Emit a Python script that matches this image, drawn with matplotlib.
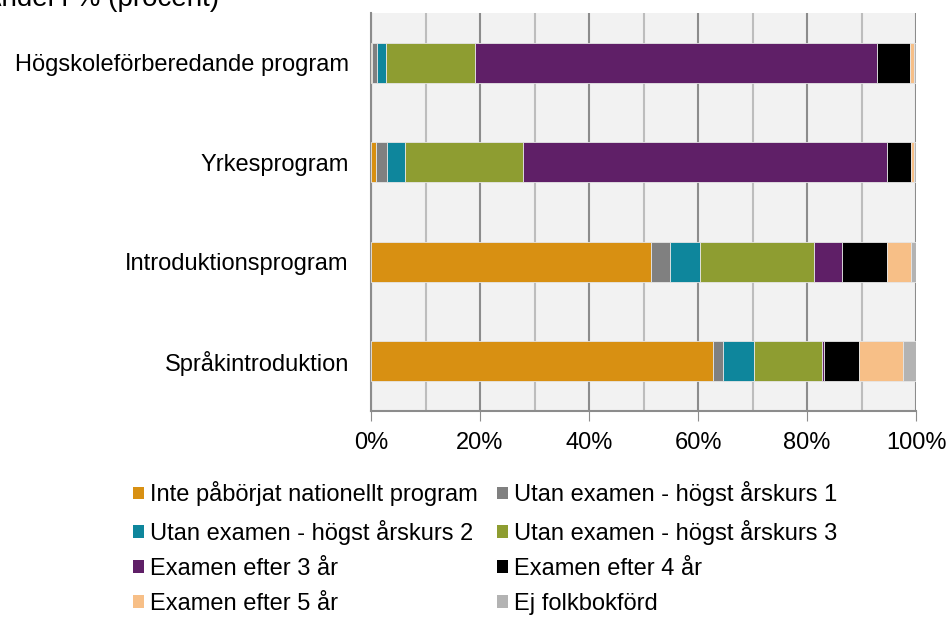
import numpy as np
import matplotlib.pyplot as plt
from matplotlib.patches import Patch

plt.rcParams["font.family"] = ["Liberation Sans", "DejaVu Sans"]

programs = ["Högskoleförberedande program", "Yrkesprogram",
            "Introduktionsprogram", "Språkintroduktion"]
series = ["Inte påbörjat nationellt program", "Utan examen - högst årskurs 1",
          "Utan examen - högst årskurs 2", "Utan examen - högst årskurs 3",
          "Examen efter 3 år", "Examen efter 4 år", "Examen efter 5 år",
          "Ej folkbokförd"]
colors = ["#D89012", "#808080", "#0E869C", "#8E9D31",
          "#5F1F67", "#000000", "#F7BF87", "#B3B3B3"]

# andel i procent, en rad per program (samma ordning som series)
hogskole = [0.2, 0.9, 1.6, 16.3, 73.9, 6.0, 0.8, 0.3]
yrkes = [0.9, 2.0, 3.4, 21.6, 66.8, 4.4, 0.6, 0.3]
intro = [51.3, 3.5, 5.5, 21.0, 5.1, 8.3, 4.3, 1.0]
sprak = [62.8, 1.7, 5.8, 12.5, 0.4, 6.4, 8.1, 2.3]

data = np.array([hogskole, yrkes, intro, sprak])
FS = 17

fig = plt.figure(figsize=(9.49, 6.30), dpi=100)
ax = fig.add_axes([371 / 949, 1 - 411 / 630, 545 / 949, 398 / 630])
ax.set_facecolor("#F2F2F2")

y = np.arange(len(programs))
left = np.zeros(len(programs))
for i, name in enumerate(series):
    ax.barh(y, data[:, i], left=left, height=0.4, color=colors[i],
            edgecolor="#E6E6E6", linewidth=0.6, zorder=3)
    left += data[:, i]

ax.set_xlim(0, 100)
ax.set_ylim(3.5, -0.5)
ax.set_xticks(np.arange(0, 101, 20))
ax.set_xticklabels([f"{v}%" for v in range(0, 101, 20)], fontsize=FS)
ax.set_xticks(np.arange(10, 100, 20), minor=True)
ax.set_yticks(y)
ax.set_yticklabels(programs, fontsize=FS)
ax.tick_params(axis="y", length=0, pad=16)
ax.tick_params(axis="x", which="major", length=7, color="#8C8C8C", pad=8)
ax.tick_params(axis="x", which="minor", length=0)

ax.grid(True, axis="x", which="major", color="#8C8C8C", linewidth=1.5, zorder=1)
ax.grid(True, axis="x", which="minor", color="#BDBDBD", linewidth=1.5, zorder=1)
ax.set_axisbelow(True)
for side in ["top", "right"]:
    ax.spines[side].set_visible(False)
ax.spines["left"].set_color("#8C8C8C")
ax.spines["left"].set_linewidth(1.5)
ax.spines["bottom"].set_color("#8C8C8C")
ax.spines["bottom"].set_linewidth(1.5)

# legend reads row by row in the reference, matplotlib fills column by column
order = [0, 2, 4, 6, 1, 3, 5, 7]
handles = [Patch(facecolor=colors[k], edgecolor="none") for k in order]
labels = [series[k] for k in order]
fig.legend(handles, labels, ncol=2, loc="upper left",
           bbox_to_anchor=(124 / 949, 1 - 472 / 630), frameon=False,
           fontsize=FS, handlelength=0.45, handleheight=0.45,
           handletextpad=0.25, columnspacing=0.83, labelspacing=0.56,
           borderaxespad=0)

fig.text(-17 / 949, 1 - 6 / 630, "Andel i % (procent)", fontsize=20,
         ha="left", va="baseline")

fig.savefig("out.png", dpi=100)
